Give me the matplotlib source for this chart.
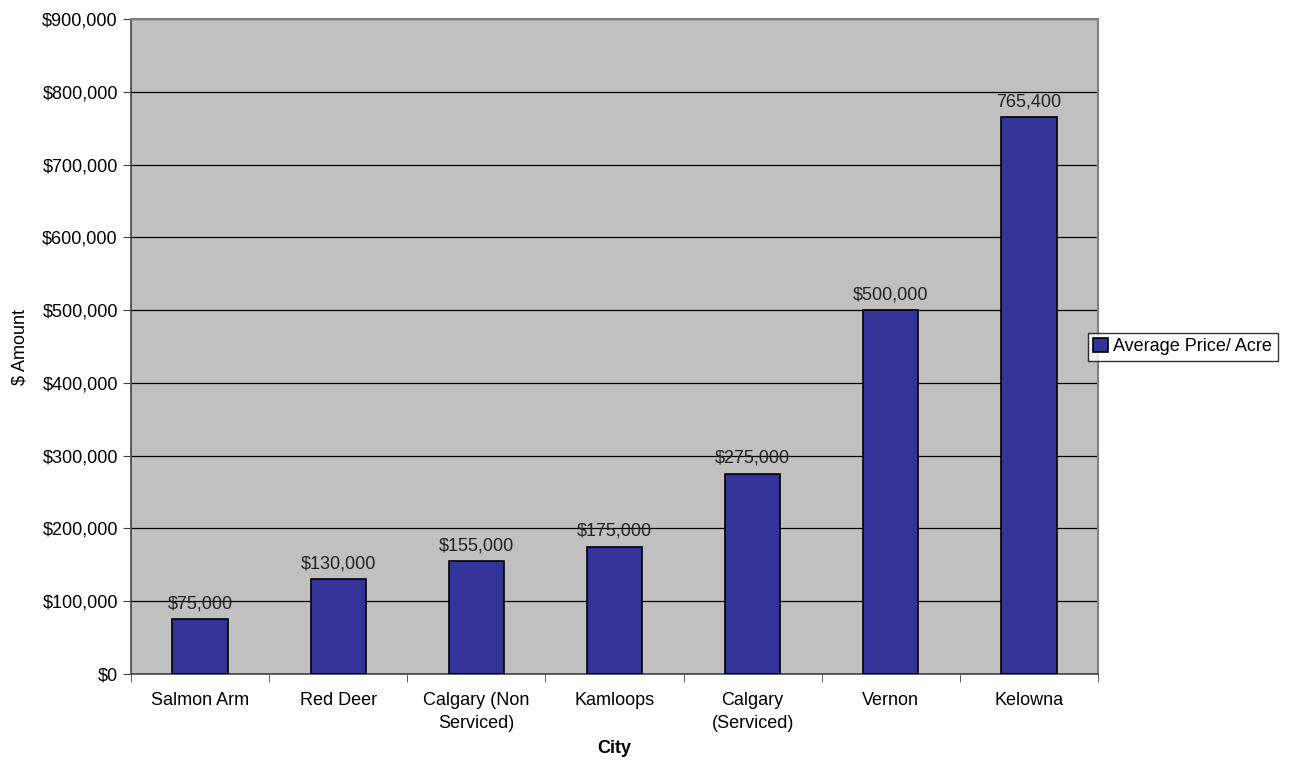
import matplotlib.pyplot as plt
import numpy as np
from matplotlib.ticker import FuncFormatter, FixedLocator

plt.rcParams['font.family'] = ['Liberation Sans', 'DejaVu Sans']

cities = ['Salmon Arm', 'Red Deer', 'Calgary (Non\nServiced)', 'Kamloops',
          'Calgary\n(Serviced)', 'Vernon', 'Kelowna']
prices = [75000, 130000, 155000, 175000, 275000, 500000, 765400]
labels = ['$75,000', '$130,000', '$155,000', '$175,000', '$275,000', '$500,000', '765,400']

fs = 13

fig = plt.figure(figsize=(13, 7.64), dpi=100)
ax = fig.add_axes([0.1008, 0.1178, 0.7438, 0.8573])
ax.set_facecolor('#c0c0c0')

x = np.arange(len(cities))
bars = ax.bar(x, prices, width=0.4, color='#333399', edgecolor='black', linewidth=1.2,
              label='Average Price/ Acre', zorder=3)

for xi, v, lab in zip(x, prices, labels):
   ax.annotate(lab, (xi, v), xytext=(0, 5), textcoords='offset points',
               ha='center', va='bottom', fontsize=fs, color='#222222', zorder=4)

ax.set_xlim(-0.5, len(cities) - 0.5)
ax.set_ylim(0, 900000)
ax.set_yticks(np.arange(0, 900001, 100000))
ax.yaxis.set_major_formatter(FuncFormatter(lambda v, p: '${:,.0f}'.format(v)))
ax.grid(axis='y', color='black', linewidth=0.9, zorder=1)

ax.set_xticks(x)
ax.set_xticklabels(cities, fontsize=fs, linespacing=1.45)
ax.tick_params(axis='x', length=0, pad=13)
ax.xaxis.set_minor_locator(FixedLocator(np.arange(-0.5, len(cities), 1)))
ax.tick_params(axis='x', which='minor', length=6, color='#444444')
ax.tick_params(axis='y', length=6, labelsize=fs, color='#444444')

for s in ['top', 'right']:
   ax.spines[s].set_color('#808080')
   ax.spines[s].set_linewidth(1.5)
for s in ['left', 'bottom']:
   ax.spines[s].set_color('#444444')
   ax.spines[s].set_linewidth(1.2)

ax.set_ylabel('$ Amount', fontsize=fs, labelpad=10)
ax.set_xlabel('City', fontsize=fs, fontweight='bold', labelpad=6)

leg = ax.legend(loc='center left', fontsize=fs,
                frameon=True, fancybox=False, edgecolor='black', handlelength=0.8,
                handleheight=0.8, handletextpad=0.3, borderpad=0.3, borderaxespad=0)
leg.get_frame().set_linewidth(1.0)
leg.set_bbox_to_anchor((1.0 - 10/967, 0.5), transform=ax.transAxes)

plt.savefig('out.png', dpi=100)
